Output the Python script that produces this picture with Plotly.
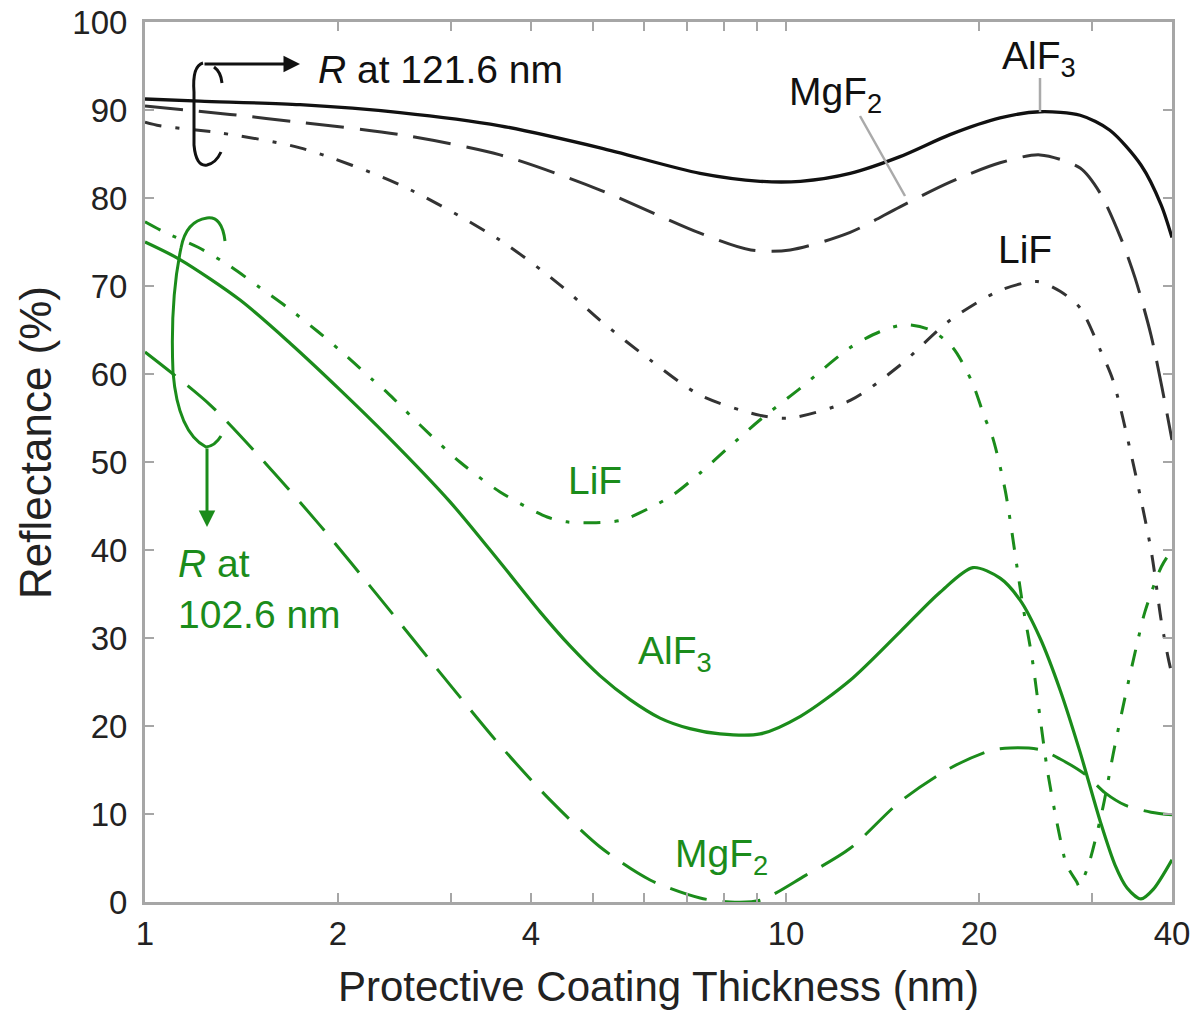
import plotly.graph_objects as go

# ---------------- data ----------------
# R at 121.6 nm (black)
x_alf3_121 = [1, 1.218, 1.745, 2.499, 3.58, 5.128, 7.344, 9.113, 10.53, 12.59, 15.06, 18.02, 21.57, 24.9, 28.76, 32.0, 35.78, 38.48, 40]
r_alf3_121 = [91.25, 91.0, 90.6, 89.7, 88.2, 85.7, 82.8, 81.9, 81.9, 82.8, 84.7, 87.2, 89.1, 89.8, 89.4, 87.7, 83.75, 79.2, 75.5]

x_mgf2_121 = [1, 1.357, 1.745, 2.499, 3.58, 5.128, 7.344, 8.812, 10.15, 12.59, 15.06, 18.02, 21.57, 24.9, 28.76, 30.93, 33.26, 35.04, 37.1, 38.6, 40]
r_mgf2_121 = [90.45, 89.5, 88.6, 87.2, 84.9, 80.9, 76.0, 74.1, 74.1, 76.1, 79.0, 81.8, 84.0, 84.9, 83.4, 80.5, 75.5, 70.9, 64.4, 58.4, 52.5]

x_lif_121 = [1, 1.055, 1.309, 1.745, 2.499, 3.58, 4.443, 5.128, 6.137, 7.344, 9.113, 10.15, 12.59, 15.06, 18.02, 21.57, 24.64, 26.76, 28.76, 30.93, 32.36, 34.41, 37.1, 38.48, 39.44, 40]
r_lif_121 = [88.6, 88.2, 87.4, 85.7, 81.5, 75.2, 70.1, 66.1, 61.6, 57.6, 55.3, 55.0, 57.0, 61.0, 66.1, 69.5, 70.5, 69.4, 67.5, 62.7, 59.3, 51.4, 40.0, 32.0, 27.8, 25.8]

# R at 102.6 nm (green)
x_alf3_102 = [1, 1.134, 1.407, 1.684, 2.015, 2.384, 2.989, 3.58, 4.13, 4.603, 5.128, 5.71, 6.36, 7.08, 7.888, 9.113, 10.53, 12.59, 15.06, 17.39, 19.57, 21.57, 23.18, 24.9, 26.76, 28.76, 30.93, 32.6, 34.04, 35.78, 37.36, 40]
r_alf3_102 = [75.0, 73.0, 68.4, 63.5, 58.2, 53.0, 45.5, 38.6, 33.0, 29.1, 25.7, 23.0, 20.9, 19.7, 19.1, 19.1, 21.1, 25.2, 30.7, 35.2, 38.0, 36.8, 34.3, 30.0, 24.1, 17.0, 9.1, 4.2, 1.6, 0.35, 1.4, 4.8]

x_mgf2_102 = [1, 1.263, 1.566, 1.875, 2.326, 2.989, 3.58, 4.283, 5.128, 6.137, 7.344, 8.18, 9.113, 10.71, 12.59, 15.06, 18.02, 20.81, 22.36, 24.9, 26.76, 29.28, 31.46, 33.81, 37.1, 40]
r_mgf2_102 = [62.5, 56.5, 49.3, 42.8, 34.5, 24.7, 17.8, 11.6, 6.25, 2.5, 0.45, 0.0, 0.2, 3.0, 6.1, 11.4, 15.2, 17.2, 17.5, 17.3, 16.25, 14.5, 12.4, 11.0, 10.2, 9.9]

x_lif_102 = [1, 1.074, 1.21, 1.348, 1.512, 1.672, 1.862, 2.073, 2.268, 2.394, 2.686, 3.099, 3.58, 4.24, 4.55, 4.94, 5.55, 6.25, 6.66, 7.344, 8.12, 9.113, 10.53, 12.59, 14.0, 15.3, 16.8, 18.2, 19.5, 20.4, 21.0, 21.97, 22.9, 23.4, 24.2, 24.9, 25.6, 26.6, 27.4, 28.4, 28.65, 29.6, 31.2, 32.4, 33.8, 35.4, 36.3, 38.5, 40]
r_lif_102 = [77.3, 76.1, 74.4, 72.4, 69.8, 67.5, 64.8, 61.9, 59.3, 57.8, 54.2, 50.0, 46.6, 43.75, 43.2, 43.1, 43.4, 45.1, 46.25, 48.75, 51.6, 54.8, 58.4, 63.0, 64.8, 65.6, 65.0, 63.0, 59.1, 55.1, 52.8, 46.8, 38.3, 33.75, 27.7, 21.0, 14.7, 8.2, 4.2, 2.3, 1.8, 4.1, 10.7, 16.9, 23.3, 29.8, 33.0, 38.1, 40.0]

x_tickvals = [1, 2, 3, 4, 5, 6, 7, 8, 9, 10, 20, 30, 40]
x_ticktext = ["1", "2", "", "4", "", "", "", "", "", "10", "20", "", "40"]
y_tickvals = [0, 10, 20, 30, 40, 50, 60, 70, 80, 90, 100]

# ---------------- styling ----------------
BLACK = "#111111"
DGRAY = "#333333"
GREEN = "#1b8c1b"
FRAME = "#a6a6a6"
TXT = "#222222"
FONT = "Liberation Sans, Arial, sans-serif"
DASH = "38px,16px"
DASHDOT = "17px,14px,4px,14px"

W, H = 1194, 1011
L, R, T, B = 145, 1172, 22, 902


def px(x):
    return (x - L) / (R - L)


def py(y):
    return (B - y) / (B - T)


fig = go.Figure()

series = [
    (x_alf3_121, r_alf3_121, BLACK, "solid", 3.3),
    (x_mgf2_121, r_mgf2_121, DGRAY, DASH, 3),
    (x_lif_121, r_lif_121, DGRAY, DASHDOT, 3),
    (x_alf3_102, r_alf3_102, GREEN, "solid", 3.2),
    (x_mgf2_102, r_mgf2_102, GREEN, DASH, 3),
    (x_lif_102, r_lif_102, GREEN, DASHDOT, 3),
]
for xs, ys, col, dash, w in series:
    fig.add_trace(go.Scatter(
        x=xs, y=ys, mode="lines",
        line=dict(color=col, width=w, dash=dash, shape="spline", smoothing=0.8),
        showlegend=False, hoverinfo="skip", cliponaxis=True,
    ))

axis_common = dict(
    showgrid=False, zeroline=False, showline=True, linecolor=FRAME, linewidth=3,
    mirror="ticks", ticks="inside", ticklen=9, tickwidth=2, tickcolor=FRAME,
    tickfont=dict(family=FONT, size=33, color=TXT), automargin=False,
)

fig.update_xaxes(
    type="log", range=[0, 1.60206], tickmode="array",
    tickvals=x_tickvals, ticktext=x_ticktext,
    title=dict(text="Protective Coating Thickness (nm)",
               font=dict(family=FONT, size=42, color=TXT), standoff=22),
    ticklabelstandoff=0,
    **axis_common,
)
fig.update_yaxes(
    range=[0, 100], tickmode="array", tickvals=y_tickvals,
    ticklabelstandoff=8,
    **axis_common,
)

# y-axis title (placed as in the reference, slightly above centre)
fig.add_annotation(text="Reflectance (%)", textangle=-90, x=px(35), y=py(443),
                   xref="paper", yref="paper", xanchor="center", yanchor="middle",
                   showarrow=False, font=dict(family=FONT, size=44, color=TXT))


# ---------------- annotations ----------------
def label(text, x, y, color, size=39, xanchor="left", yanchor="top"):
    fig.add_annotation(
        text=text, x=px(x), y=py(y), xref="paper", yref="paper",
        xanchor=xanchor, yanchor=yanchor, showarrow=False,
        font=dict(family=FONT, size=size, color=color), align="left",
    )


label("<i>R</i> at 121.6 nm", 316, 46, BLACK)
label("AlF<sub>3</sub>", 1000, 32, BLACK)
label("MgF<sub>2</sub>", 787, 68, BLACK)
label("LiF", 996, 226, BLACK)
label("LiF", 566, 457, GREEN)
label("AlF<sub>3</sub>", 636, 627, GREEN)
label("MgF<sub>2</sub>", 673, 830, GREEN)
label("<i>R</i> at<br>102.6 nm", 176, 540, GREEN)

# pointer lines
fig.add_shape(type="line", xref="paper", yref="paper",
              x0=px(1040), y0=py(78), x1=px(1040), y1=py(112),
              line=dict(color="#aaaaaa", width=2.5))
fig.add_shape(type="line", xref="paper", yref="paper",
              x0=px(860), y0=py(116), x1=px(905), y1=py(196),
              line=dict(color="#aaaaaa", width=2.5))


def pth(points):
    s = ""
    for cmd, pts in points:
        s += cmd + " " + " ".join(f"{px(a):.5f},{py(b):.5f}" for a, b in pts) + " "
    return s.strip()


# black loop around 121.6 nm curves
fig.add_shape(type="path", xref="paper", yref="paper", layer="above",
              path=pth([("M", [(203, 63)]), ("Q", [(192, 66), (194, 92)]),
                        ("L", [(194, 145)]), ("Q", [(196, 167), (207, 165)]),
                        ("Q", [(216, 163), (221, 152)])]),
              line=dict(color=BLACK, width=3))
fig.add_shape(type="path", xref="paper", yref="paper", layer="above",
              path=pth([("M", [(214, 67)]), ("Q", [(221, 72), (222, 83)])]),
              line=dict(color=BLACK, width=3))
fig.add_annotation(x=px(300), y=py(64), xref="paper", yref="paper", text="",
                   showarrow=True, ax=-97, ay=0, arrowhead=2, arrowsize=1.1,
                   arrowwidth=3, arrowcolor=BLACK)

# green loop around 102.6 nm curves
fig.add_shape(type="path", xref="paper", yref="paper", layer="above",
              path=pth([("M", [(225, 241)]), ("Q", [(222, 216), (207, 218)]),
                        ("Q", [(186, 221), (181, 248)]),
                        ("Q", [(170, 300), (173, 372)]),
                        ("Q", [(178, 432), (206, 447)]),
                        ("Q", [(215, 446), (221, 436)])]),
              line=dict(color=GREEN, width=3))
fig.add_annotation(x=px(207), y=py(527), xref="paper", yref="paper", text="",
                   showarrow=True, ax=0, ay=-80, arrowhead=2, arrowsize=1.1,
                   arrowwidth=3, arrowcolor=GREEN)

fig.update_layout(
    width=W, height=H,
    margin=dict(l=L, r=W - R, t=T, b=H - B, pad=0),
    paper_bgcolor="white", plot_bgcolor="white",
    font=dict(family=FONT),
)

fig.write_html("out.html")
